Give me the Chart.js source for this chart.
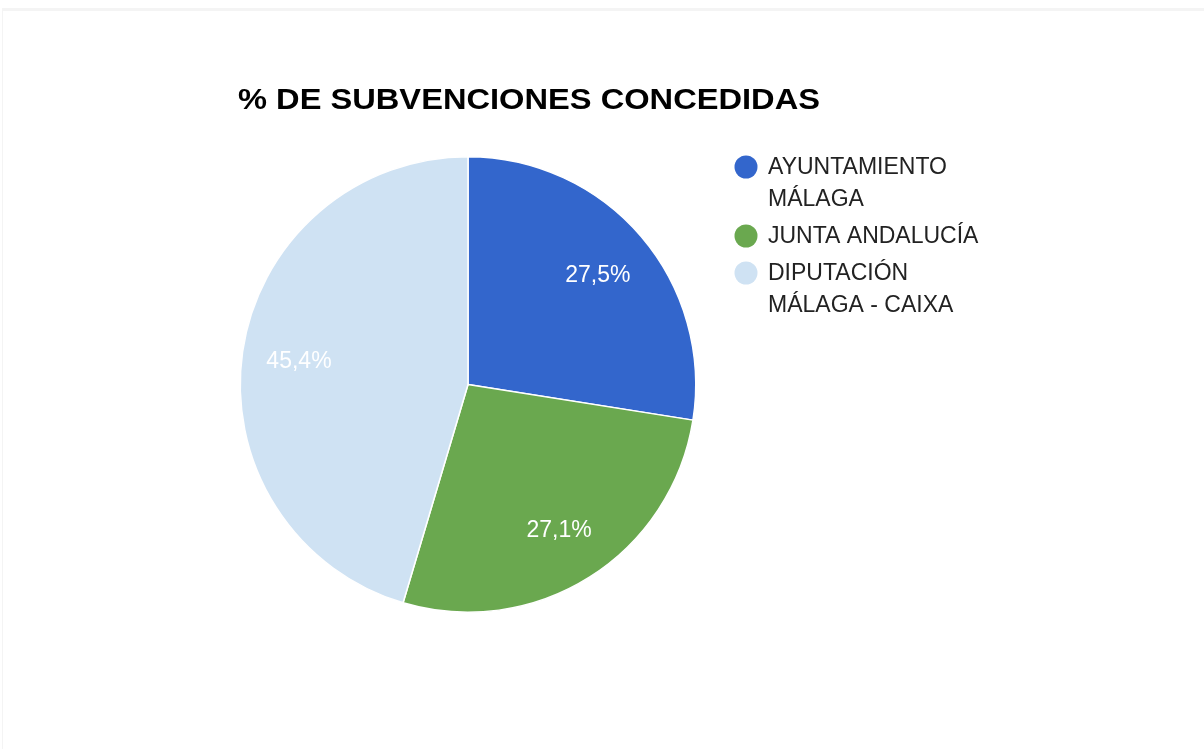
<!DOCTYPE html>
<html>
<head>
<meta charset="utf-8">
<script src="https://cdn.jsdelivr.net/npm/chart.js@4.4.0/dist/chart.umd.min.js"></script>
<style>
  html, body { margin: 0; padding: 0; background: #fff; }
  #frame {
    position: absolute; left: 2px; top: 8px; width: 1210px; height: 760px;
    border-top: 3px solid #f4f4f4; border-left: 1px solid #f4f4f4;
  }
  #chart { position: absolute; left: 0; top: 0; }
</style>
</head>
<body>
<div id="frame"></div>
<canvas id="chart" width="1204" height="749"></canvas>
<script>
const title = '% DE SUBVENCIONES CONCEDIDAS';
const categories = [['AYUNTAMIENTO', 'MÁLAGA'], ['JUNTA ANDALUCÍA'], ['DIPUTACIÓN', 'MÁLAGA - CAIXA']];
const values = [27.5, 27.1, 45.4];
const colors = ['#3366cc', '#6aa84f', '#cfe2f3'];

// percentage labels inside the slices
const sliceLabels = {
    id: 'sliceLabels',
    afterDatasetsDraw(chart) {
        const ctx = chart.ctx;
        const meta = chart.getDatasetMeta(0);
        const total = values.reduce((a, b) => a + b, 0);
        ctx.save();
        ctx.font = '23px "Liberation Sans", Arial, sans-serif';
        ctx.fillStyle = '#ffffff';
        ctx.textAlign = 'center';
        ctx.textBaseline = 'middle';
        meta.data.forEach((arc, i) => {
            const p = arc.getProps(['x', 'y', 'startAngle', 'endAngle', 'outerRadius'], true);
            const mid = (p.startAngle + p.endAngle) / 2;
            const r = p.outerRadius * 0.75;
            const txt = (values[i] / total * 100).toFixed(1).replace('.', ',') + '%';
            ctx.fillText(txt, p.x + Math.cos(mid) * r, p.y + Math.sin(mid) * r + 2);
        });
        ctx.restore();
    }
};

// title and legend drawn on the canvas
const extras = {
    id: 'extras',
    afterDraw(chart) {
        const ctx = chart.ctx;
        ctx.save();
        ctx.font = 'bold 29px "Liberation Sans", Arial, sans-serif';
        ctx.fillStyle = '#000000';
        ctx.textBaseline = 'alphabetic';
        const w = ctx.measureText(title).width;
        ctx.save();
        ctx.translate(238, 109);
        ctx.scale(582 / w, 1);
        ctx.fillText(title, 0, 0);
        ctx.restore();

        ctx.font = '23px "Liberation Sans", Arial, sans-serif';
        ctx.textBaseline = 'middle';
        let y = 167;
        categories.forEach((lines, i) => {
            ctx.fillStyle = colors[i];
            ctx.beginPath();
            ctx.arc(746, y, 11.5, 0, Math.PI * 2);
            ctx.fill();
            ctx.fillStyle = '#222222';
            lines.forEach((line, j) => {
                ctx.fillText(line, 768, y + j * 32 + 1);
            });
            y += lines.length * 32 + 5;
        });
        ctx.restore();
    }
};

new Chart(document.getElementById('chart'), {
    type: 'pie',
    data: {
        labels: categories.map(c => c.join(' ')),
        datasets: [{
            data: values,
            backgroundColor: colors,
            borderColor: '#ffffff',
            borderWidth: 1.5
        }]
    },
    options: {
        responsive: false,
        animation: false,
        layout: { padding: { left: 239, right: 507, top: 156, bottom: 136 } },
        plugins: {
            legend: { display: false },
            title: { display: false },
            tooltip: { enabled: false }
        }
    },
    plugins: [sliceLabels, extras]
});
</script>
</body>
</html>
